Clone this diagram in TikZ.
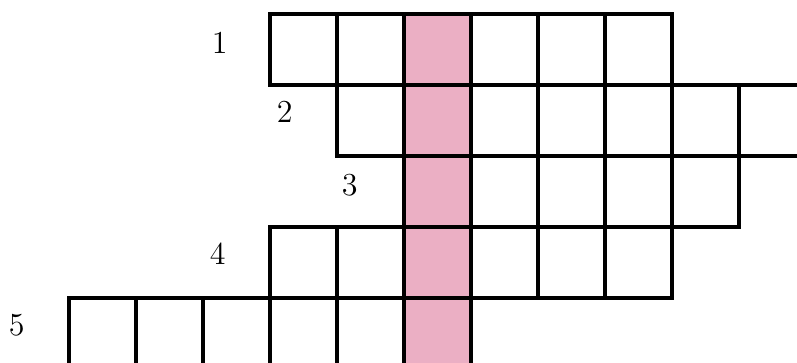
\documentclass[tikz,border=0pt]{standalone}
\usepackage{xcolor}
\usetikzlibrary{positioning}
\definecolor{keycol}{RGB}{235,175,196}
\tikzset{
  cell/.style={line width=1.3pt},
  clue/.style={font=\fontsize{13.6}{16}\selectfont, inner sep=0pt}
}
\begin{document}
\begin{tikzpicture}[x=1cm,y=-1.0597cm]
\useasboundingbox (-1.0299,-0.1972) rectangle (10.8657,4.9155);
\clip (-1.0299,-0.1972) rectangle (10.8657,4.9155);
\fill[keycol] (5,0) rectangle (6,5.2);
\foreach \r/\a/\n in {0/3/6, 1/4/7, 2/5/5, 3/3/6, 4/0/6}
  \foreach \k in {1,...,\n}
    \draw[cell] (\a+\k-1,\r) rectangle +(1,1);
\node[clue] (n1) at (2.25,0.41) {1};
\node[clue] (n2) at (3.22,1.38) {2};
\node[clue] (n3) at (4.19,2.41) {3};
\node[clue] (n4) at (2.22,3.37) {4};
\node[clue] (n5) at (-0.78,4.38) {5};
\end{tikzpicture}
\end{document}
